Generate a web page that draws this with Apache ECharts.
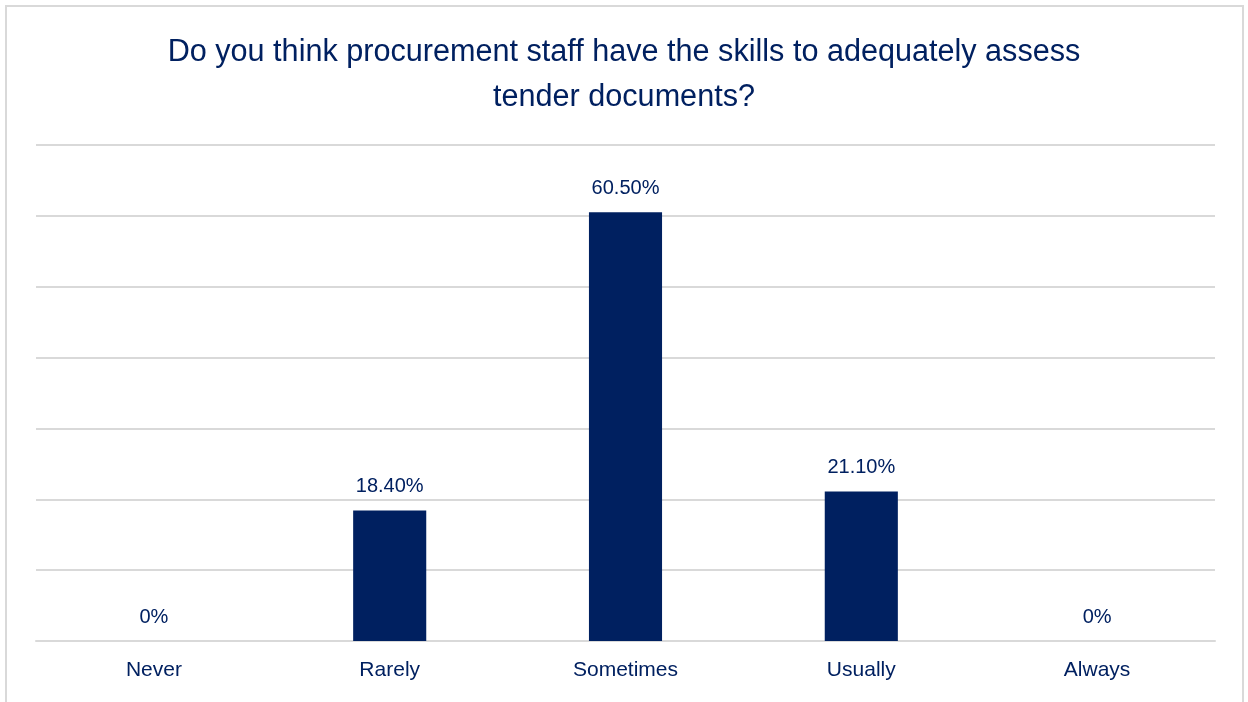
<!DOCTYPE html>
<html>
<head>
<meta charset="utf-8">
<script src="https://cdn.jsdelivr.net/npm/echarts@6/dist/echarts.min.js"></script>
<style>
  html, body { margin: 0; padding: 0; background: #ffffff; }
  #chart { width: 1248px; height: 702px; }
</style>
</head>
<body>
<div id="chart"></div>
<script>
// Survey answers and the share of respondents (percent) for each
const categories = ['Never', 'Rarely', 'Sometimes', 'Usually', 'Always'];
const shares = [0, 18.4, 60.5, 21.1, 0];
const valueLabels = ['0%', '18.40%', '60.50%', '21.10%', '0%'];

const NAVY = '#002060';
const FONT = '"Liberation Sans", Arial, sans-serif';

const chart = echarts.init(document.getElementById('chart'), null, { renderer: 'canvas' });

chart.setOption({
  animation: false,
  backgroundColor: '#ffffff',
  title: {
    text: 'Do you think procurement staff have the skills to adequately assess\ntender documents?',
    left: 'center',
    top: 25,
    textStyle: {
      color: NAVY,
      fontFamily: FONT,
      fontWeight: 'normal',
      fontSize: 30.6,
      lineHeight: 45,
      align: 'center'
    }
  },
  graphic: [{
    type: 'rect',
    silent: true,
    z: -1,
    shape: { x: 6, y: 6, width: 1237, height: 720 },
    style: { fill: 'none', stroke: '#d9d9d9', lineWidth: 2 }
  }],
  grid: { left: 36, right: 33, top: 145, bottom: 61 },
  xAxis: {
    type: 'category',
    data: categories,
    axisLine: { show: true, lineStyle: { color: '#d9d9d9', width: 2 } },
    axisTick: { show: false },
    axisLabel: {
      color: NAVY,
      fontFamily: FONT,
      fontSize: 21,
      margin: 19
    }
  },
  yAxis: {
    type: 'value',
    min: 0,
    max: 70,
    interval: 10,
    axisLine: { show: false },
    axisTick: { show: false },
    axisLabel: { show: false },
    splitLine: { lineStyle: { color: '#d9d9d9', width: 2 } }
  },
  series: [{
    type: 'bar',
    data: shares,
    barWidth: '31%',
    itemStyle: { color: NAVY },
    label: {
      show: true,
      position: 'top',
      distance: 14,
      color: NAVY,
      fontFamily: FONT,
      fontSize: 20,
      formatter: (p) => valueLabels[p.dataIndex]
    }
  }]
});
</script>
</body>
</html>
